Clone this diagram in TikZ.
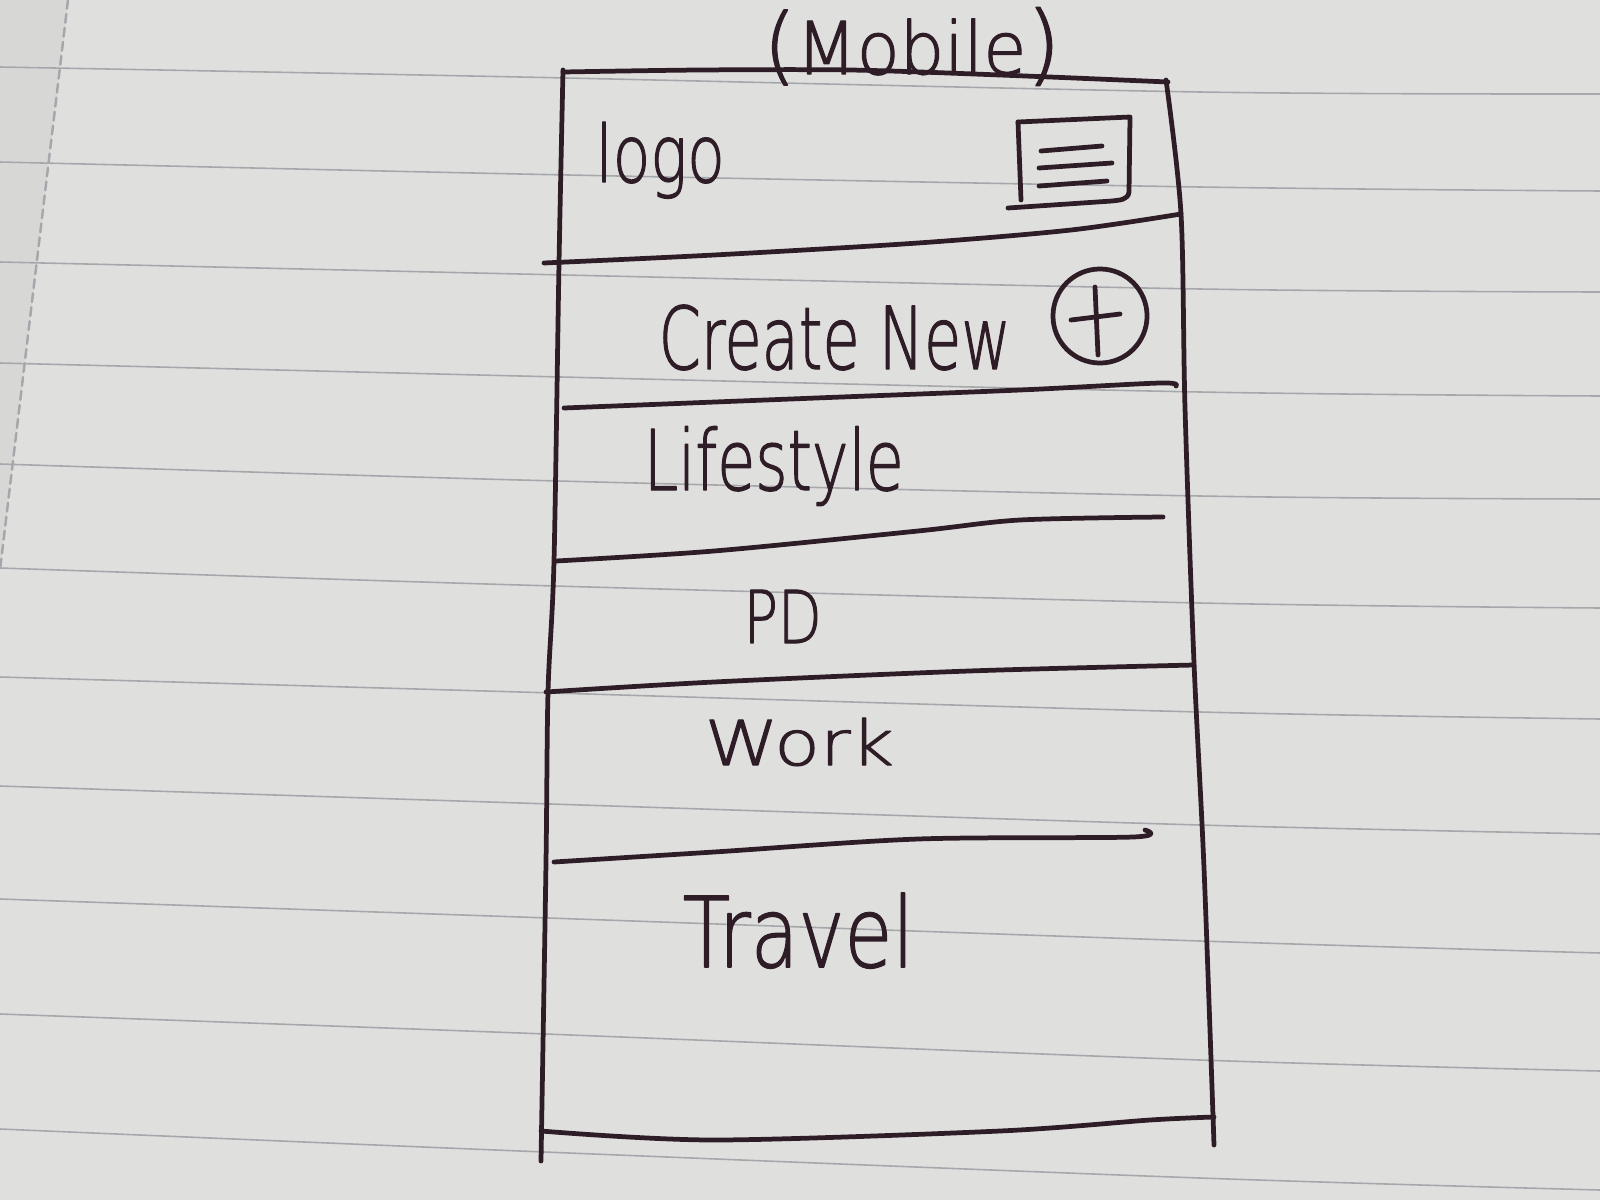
\documentclass[tikz,border=0pt]{standalone}
\usepackage{fontspec}
\usepackage{graphicx}
\setmainfont{DejaVu Sans ExtraLight}[AutoFakeBold=1.6]
% text squeezed to a given width, natural height kept
\newcommand\handtext[3]{\resizebox{#1}{\height}{\fontsize{#2}{#2}\selectfont\bfseries #3}}
\begin{document}
\begin{tikzpicture}[x=0.01cm,y=-0.01cm,line cap=round,line join=round]
\definecolor{paper}{RGB}{223,224,222}
\definecolor{paperedge}{RGB}{215,216,214}
\definecolor{rulecol}{RGB}{165,167,170}
\definecolor{ink}{RGB}{46,28,38}
\tikzset{
  ruled/.style={draw=rulecol,line width=0.45pt},
  pen/.style={draw=ink,line width=1.35pt},
  hand/.style={text=ink,inner sep=0pt,anchor=base west},
}
% sheet of ruled paper
\fill[paper] (0,0) rectangle (1600,1200);
\useasboundingbox (0,0) rectangle (1600,1200);
\fill[paperedge] (0,0) -- (68,0) -- (0,570) -- cycle;
\draw[rulecol,line width=0.7pt,dash pattern=on 2.5pt off 1.5pt] (68,0) -- (0,570);
\foreach \a/\b/\c/\d in {67/77/92/94,162/174/187/191,262/274/289/292,
  363/376/392/396,464/480/496/499,568/585/603/608,677/692/712/719,
  786/803/825/834,899/917/941/953,1014/1033/1060/1071,1129/1151/1178/1190}
  \draw[ruled] plot[smooth] coordinates {(0,\a) (520,\b) (1200,\c) (1600,\d)};

% phone frame
\draw[pen] plot[smooth] coordinates {(563,72) (700,70) (850,70) (1000,75) (1168,82)};
\draw[pen] plot[smooth] coordinates {(563,70) (559,263) (554,561) (548,692) (546,862) (541,1161)};
\draw[pen] plot[smooth] coordinates {(1166,80) (1181,214) (1185,408) (1194,663) (1204,868) (1214,1145)};
\draw[pen] plot[smooth] coordinates {(541,1131) (714,1140) (1000,1131) (1150,1120) (1214,1117)};

% section dividers
\draw[pen] plot[smooth] coordinates {(544,263) (714,255) (918,243) (1071,230) (1181,214)};
\draw[pen] plot[smooth] coordinates {(564,408) (816,398) (1020,390) (1160,383) (1176,386)};
\draw[pen] plot[smooth] coordinates {(556,561) (714,551) (918,531) (1020,520) (1163,517)};
\draw[pen] plot[smooth] coordinates {(546,692) (714,682) (969,671) (1194,665)};
\draw[pen] plot[smooth] coordinates {(554,862) (714,852) (918,839) (1133,837) (1145,830)};

% menu icon
\draw[pen] (1018,122) -- (1130,117) -- (1129,192)
  .. controls (1128,200) and (1120,200) .. (1112,201) -- (1008,208);
\draw[pen] (1018,122) -- (1021,200);
\draw[pen] (1041,151) -- (1102,146);
\draw[pen] (1039,168) -- (1112,163);
\draw[pen] (1039,186) -- (1107,181);

% add button
\draw[pen] (1100,316) circle[radius=0.47cm];
\draw[pen] (1095,287) -- (1098,355);
\draw[pen] (1071,320) -- (1120,314);

% labels
\node[hand,anchor=base] (title) at (912,74)
  {{\fontsize{24}{24}\selectfont\bfseries(}\handtext{2.3cm}{20.7}{Mobile}{\fontsize{25}{25}\selectfont\bfseries)}};
\node[hand] (logo) at (595,182) {\handtext{1.29cm}{22.5}{logo}};
\node[hand] (create) at (658,369) {\handtext{3.52cm}{24.6}{Create New}};
\node[hand] (life) at (643,490) {\handtext{2.6cm}{23.8}{Lifestyle}};
\node[hand] (pd) at (743,643) {\handtext{0.78cm}{20.7}{PD}};
\node[hand] (work) at (704,765) {\handtext{1.89cm}{17.6}{Work}};
\node[hand] (travel) at (682,967) {\handtext{2.31cm}{27.7}{Travel}};
\end{tikzpicture}
\end{document}
